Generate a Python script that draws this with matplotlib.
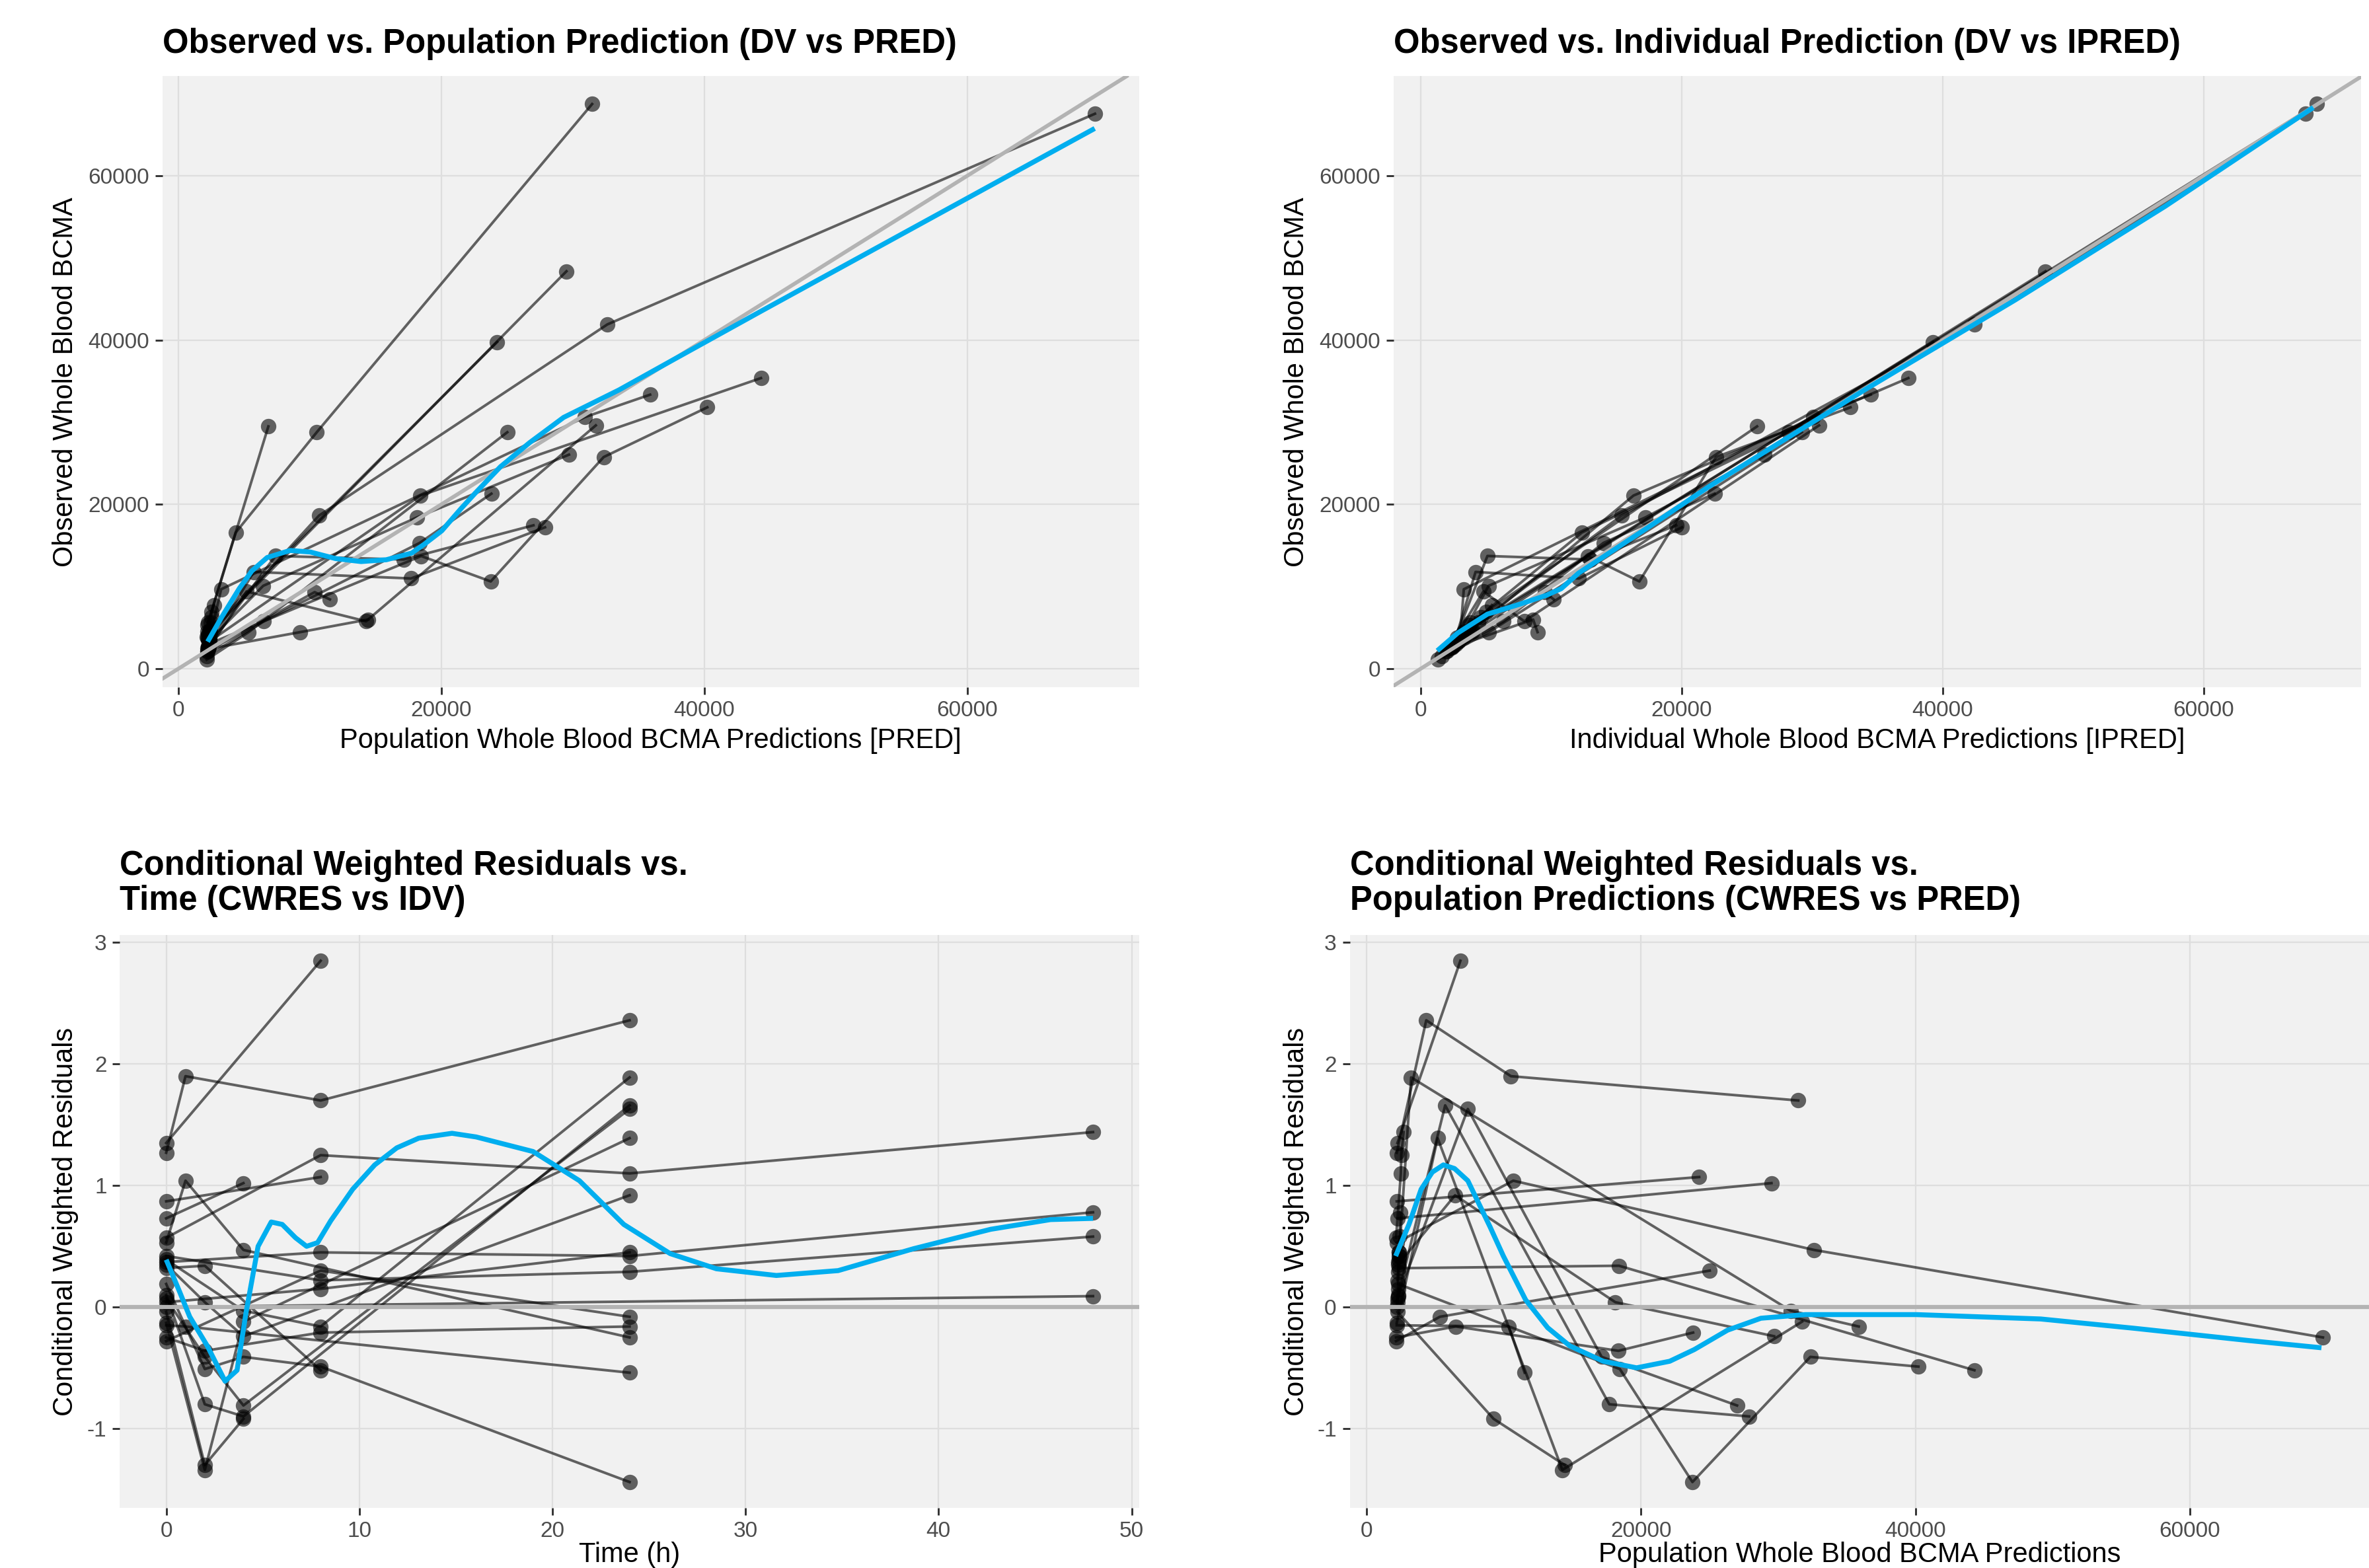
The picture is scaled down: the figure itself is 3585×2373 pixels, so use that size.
import numpy as np
import matplotlib.pyplot as plt

plt.rcParams['font.family'] = ['Liberation Sans', 'DejaVu Sans']
plt.rcParams['axes.unicode_minus'] = False

# one entry per observation: subject, time (h), PRED, IPRED, DV, CWRES
subject = [1, 1, 2, 2, 2, 2, 3, 3, 3, 3, 4, 4, 5, 5, 5, 5, 6, 6, 6, 6,
           7, 7, 7, 7, 7, 8, 8, 9, 9, 9, 9, 10, 10, 10, 11, 11, 12, 12, 12,
           13, 13, 13, 13, 14, 14, 14, 14, 15, 15, 15, 15, 16, 16, 16,
           17, 17, 17, 18, 18, 18, 18, 19, 19, 19, 19, 20, 20, 20, 20, 21, 21, 21]
time = [0, 8, 0, 1, 8, 24, 0, 8, 24, 48, 0, 8, 0, 1, 4, 24, 0, 8, 24, 48,
        0, 2, 4, 8, 24, 0, 4, 0, 8, 24, 48, 0, 8, 24, 0, 48, 0, 2, 4,
        0, 2, 4, 24, 0, 2, 4, 24, 0, 2, 4, 24, 0, 2, 8,
        0, 1, 24, 0, 4, 8, 24, 0, 2, 4, 24, 0, 2, 8, 24, 0, 8, 24]
pred = [2250, 6840, 2200, 10520, 31460, 4350, 2150, 2530, 2500, 2700, 2200, 24240,
        2200, 10690, 32620, 69700, 2300, 2350, 2400, 2450,
        2300, 18460, 32340, 40220, 23750, 2250, 29510, 2350, 2250, 2300, 2400,
        2250, 2300, 2350, 2200, 2300, 2250, 14440, 9260,
        2200, 14270, 31740, 5180, 2300, 17690, 27880, 5730, 2250, 17130, 27000, 7380,
        2350, 18400, 44300, 2200, 10360, 11520, 2350, 30910, 35870, 3250,
        2300, 18130, 29700, 6450, 2150, 18350, 23800, 6500, 2150, 25010, 5340]
ipred = [3800, 25770, 3700, 28200, 68680, 12340, 3000, 5000, 4600, 5450, 3300, 39250,
         2800, 15390, 42410, 67820, 2900, 4000, 3900, 4430,
         2600, 12790, 22630, 32930, 16750, 3200, 47870, 3000, 3000, 3300, 3700,
         2300, 2700, 3000, 2200, 2400, 2100, 8610, 8950,
         2000, 7930, 30520, 4800, 2500, 12120, 20020, 4200, 2400, 13000, 19570, 5110,
         2900, 16300, 37360, 1900, 9500, 10190, 3000, 30060, 34480, 3300,
         2900, 17200, 26320, 5200, 1600, 14000, 22510, 6350, 1300, 29200, 5220]
dv = [5600, 29490, 5300, 28780, 68720, 16560, 3900, 6900, 6300, 7740, 4500, 39760,
      3800, 18630, 41900, 67540, 3400, 4600, 4500, 5600,
      3000, 13710, 25760, 31810, 10620, 4200, 48370, 3600, 3500, 3800, 4600,
      2600, 3000, 3600, 2500, 2600, 2400, 5990, 4450,
      2150, 5770, 29610, 9400, 2750, 10980, 17210, 11780, 2650, 13290, 17450, 13720,
      3300, 21070, 35370, 2100, 9320, 8430, 3500, 30620, 33350, 9670,
      3350, 18400, 26050, 10090, 1500, 15310, 21300, 5760, 1100, 28780, 4450]
cwres = [1.35, 2.85, 1.27, 1.90, 1.70, 2.36, 0.57, 1.25, 1.10, 1.44, 0.87, 1.07,
         0.53, 1.04, 0.47, -0.25, 0.37, 0.45, 0.42, 0.78,
         0.19, -0.51, -0.41, -0.49, -1.44, 0.73, 1.02, 0.42, 0.22, 0.29, 0.58,
         0.04, 0.15, 0.45, 0.0, 0.09, -0.04, -1.30, -0.92,
         -0.13, -1.34, -0.12, 1.39, 0.10, -0.80, -0.90, 1.66, 0.07, -0.41, -0.81, 1.63,
         0.32, 0.34, -0.52, -0.15, -0.16, -0.54, 0.39, -0.03, -0.16, 1.89,
         0.35, 0.04, -0.24, 0.92, -0.25, -0.36, -0.21, -0.16, -0.28, 0.30, -0.08]

# loess curves
smooth1_x = [2220, 3280, 4630, 5590, 6750, 8490, 10030, 11960, 13890, 15810, 17740, 18700,
             20030, 21500, 22560, 24490, 26700, 29290, 33500, 37710, 44410, 69680]
smooth1_y = [3290, 6250, 9760, 11910, 13530, 14390, 14200, 13400, 13040, 13260, 14070, 15150,
             16790, 19500, 21350, 24580, 27500, 30580, 33920, 37670, 43600, 65750]
smooth2_x = [1270, 2840, 5110, 7590, 9620, 10760, 12100, 17520, 22080, 34080, 45570, 57060, 68390]
smooth2_y = [2190, 4350, 6640, 7850, 8930, 9740, 11640, 17300, 22160, 34000, 44900, 56300, 68300]
smooth3_x = [0, 0.71, 1.22, 2.13, 3.05, 3.67, 4.13, 4.76, 5.44, 6.01, 6.70, 7.27, 7.84, 8.52,
             9.66, 10.8, 11.94, 13.08, 14.8, 16.05, 19.0, 21.4, 23.7, 26.1, 28.5, 31.6, 34.8,
             38.7, 42.7, 45.8, 48]
smooth3_y = [0.39, 0.12, -0.08, -0.32, -0.61, -0.52, -0.05, 0.50, 0.70, 0.68, 0.57, 0.50, 0.53,
             0.71, 0.97, 1.17, 1.31, 1.39, 1.43, 1.40, 1.28, 1.04, 0.68, 0.44, 0.315, 0.26,
             0.30, 0.48, 0.64, 0.72, 0.73]
smooth4_x = [2120, 3090, 3980, 4790, 5600, 6410, 7380, 9000, 9970, 11590, 13200, 14820, 17250,
             19680, 22090, 23880, 26310, 28740, 31970, 40060, 49130, 55980, 64240, 69590]
smooth4_y = [0.42, 0.68, 0.97, 1.11, 1.17, 1.14, 1.04, 0.66, 0.42, 0.06, -0.17, -0.32, -0.446,
             -0.50, -0.446, -0.35, -0.19, -0.092, -0.062, -0.062, -0.098, -0.175, -0.275, -0.335]

conc_ticks = [0, 20000, 40000, 60000]

W, H, DPI = 3585, 2373, 300
fig = plt.figure(figsize=(W / DPI, H / DPI), dpi=DPI)

BG = '#F1F1F1'
GRID = '#DEDEDE'
BLUE = '#00AEEF'
REF = '#B3B3B3'
TICKC = '#4D4D4D'

subject = np.array(subject)
arr = {k: np.array(v, dtype=float) for k, v in
       dict(time=time, pred=pred, ipred=ipred, dv=dv, cwres=cwres).items()}


def expand(v):
    lo, hi = np.min(v), np.max(v)
    pad = 0.05 * (hi - lo)
    return lo - pad, hi + pad


def make_axes(x0, xs, y0, ys, xlim, ylim):
    # x0/y0: pixel of data zero, xs/ys: pixels per data unit
    left = x0 + xlim[0] * xs
    right = x0 + xlim[1] * xs
    top = y0 - ylim[1] * ys
    bottom = y0 - ylim[0] * ys
    ax = fig.add_axes([left / W, 1 - bottom / H, (right - left) / W, (bottom - top) / H])
    ax.set_xlim(xlim)
    ax.set_ylim(ylim)
    ax.set_facecolor(BG)
    for s in ax.spines.values():
        s.set_visible(False)
    ax.grid(True, color=GRID, lw=0.55, zorder=0)
    ax.set_axisbelow(True)
    ax.tick_params(length=2.75, width=0.7, color='#333333', labelsize=8,
                   labelcolor=TICKC, pad=2.0)
    return ax, left, right, top, bottom


def draw(ax, xk, yk, sx, sy):
    x, y = arr[xk], arr[yk]
    ax.plot(x, y, 'o', ms=5.6, color='black', alpha=0.6, mec='none', zorder=2)
    for sid in np.unique(subject):
        m = subject == sid
        o = np.argsort(x[m], kind='stable')
        ax.plot(x[m][o], y[m][o], color='black', alpha=0.6, lw=0.95, zorder=3)
    ax.plot(sx, sy, color=BLUE, lw=1.8, zorder=5, solid_capstyle='butt')


def labels(left, right, top, bottom, title, xlabel, ylabel, ylab_x, xlab_y, title_y):
    if isinstance(title, str):
        title = [title]
    for i, t in enumerate(title):
        fig.text(left / W, 1 - (title_y + 53 * i) / H, t, fontsize=12.2, fontweight='bold',
                 ha='left', va='baseline')
    fig.text((left + right) / 2 / W, 1 - xlab_y / H, xlabel, fontsize=10,
             ha='center', va='baseline')
    fig.text(ylab_x / W, 1 - (top + bottom) / 2 / H, ylabel, fontsize=10, rotation=90,
             ha='center', va='center')


# Panel 1: DV vs PRED
ax1, l, r, t, b = make_axes(270, 398 / 20000, 1012, 248.7 / 20000,
                            expand(arr['pred']), expand(arr['dv']))
draw(ax1, 'pred', 'dv', smooth1_x, smooth1_y)
ax1.axline((0, 0), slope=1, color=REF, lw=1.4, zorder=4)
ax1.set_xticks(conc_ticks, [str(v) for v in conc_ticks])
ax1.set_yticks(conc_ticks, [str(v) for v in conc_ticks])
labels(l, r, t, b, 'Observed vs. Population Prediction (DV vs PRED)',
       'Population Whole Blood BCMA Predictions [PRED]', 'Observed Whole Blood BCMA',
       99, 1132, 80)

# Panel 2: DV vs IPRED
ax2, l, r, t, b = make_axes(2150, 395 / 20000, 1012, 248.7 / 20000,
                            expand(arr['ipred']), expand(arr['dv']))
draw(ax2, 'ipred', 'dv', smooth2_x, smooth2_y)
ax2.axline((0, 0), slope=1, color=REF, lw=1.4, zorder=4)
ax2.set_xticks(conc_ticks, [str(v) for v in conc_ticks])
ax2.set_yticks(conc_ticks, [str(v) for v in conc_ticks])
labels(l, r, t, b, 'Observed vs. Individual Prediction (DV vs IPRED)',
       'Individual Whole Blood BCMA Predictions [IPRED]', 'Observed Whole Blood BCMA',
       1962, 1132, 80)

# Panel 3: CWRES vs time
ax3, l, r, t, b = make_axes(251.5, 29.22, 1978.1, 183.9,
                            expand(arr['time']), expand(arr['cwres']))
draw(ax3, 'time', 'cwres', smooth3_x, smooth3_y)
ax3.axhline(0, color=REF, lw=1.5, zorder=4)
ax3.set_xticks([0, 10, 20, 30, 40, 50], ['0', '10', '20', '30', '40', '50'])
ax3.set_yticks([-1, 0, 1, 2, 3], ['-1', '0', '1', '2', '3'])
labels(l, r, t, b, ['Conditional Weighted Residuals vs.', 'Time (CWRES vs IDV)'],
       'Time (h)', 'Conditional Weighted Residuals', 99, 2364, 1324)

# Panel 4: CWRES vs PRED
ax4, l, r, t, b = make_axes(2068, 415.3 / 20000, 1978.1, 183.9,
                            expand(arr['pred']), expand(arr['cwres']))
draw(ax4, 'pred', 'cwres', smooth4_x, smooth4_y)
ax4.axhline(0, color=REF, lw=1.5, zorder=4)
ax4.set_xticks(conc_ticks, [str(v) for v in conc_ticks])
ax4.set_yticks([-1, 0, 1, 2, 3], ['-1', '0', '1', '2', '3'])
labels(l, r, t, b, ['Conditional Weighted Residuals vs.', 'Population Predictions (CWRES vs PRED)'],
       'Population Whole Blood BCMA Predictions', 'Conditional Weighted Residuals',
       1962, 2364, 1324)

fig.savefig('out.png', dpi=DPI, facecolor='white')
